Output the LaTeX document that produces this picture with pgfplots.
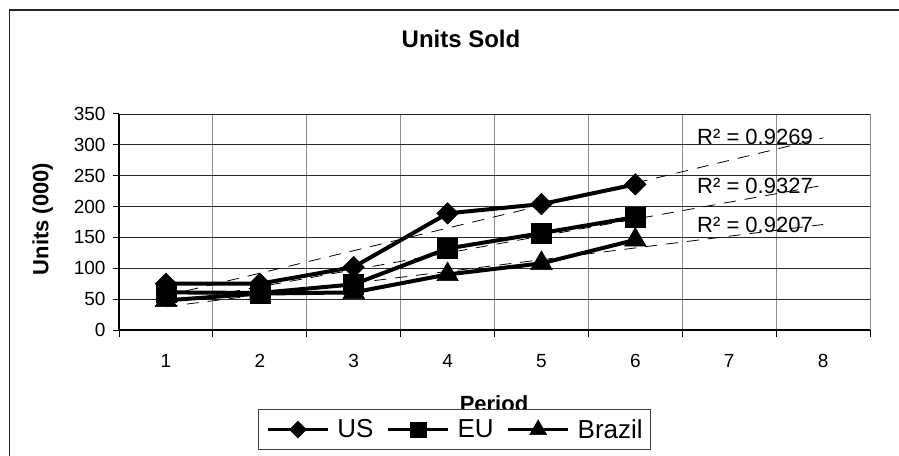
\documentclass[border=0pt]{standalone}
\usepackage{pgfplots}
\pgfplotsset{compat=1.18}
\usepackage{fontspec}
\setmainfont{Liberation Sans}

\begin{document}
\begin{tikzpicture}
\useasboundingbox (0pt,0pt) rectangle (899pt,455pt);
\clip (0pt,0pt) rectangle (899pt,455pt);
% chart frame (runs off the right and bottom edges)
\draw[black!85, line width=1.5pt] (9.5pt,445pt) rectangle (930pt,-30pt);
\node[anchor=base, font=\bfseries\fontsize{22}{26}\selectfont, inner sep=0pt] at (494pt,44pt) {Period};
\begin{axis}[
    at={(119pt,125pt)}, anchor=south west,
    x=93.875pt, y=0.617143pt,
    xmin=0.5, xmax=8.5, ymin=0, ymax=350,
    xtick={1,...,8}, ytick={0,50,...,350},
    minor xtick={0.5,1.5,...,8.5},
    xmajorgrids=false, xminorgrids=true, ymajorgrids=true,
    major grid style={black!85, line width=0.9pt},
    minor grid style={black!45, line width=1pt},
    axis x line*=bottom, axis y line*=left,
    axis line style={black, line width=1.4pt, -},
    tick align=outside,
    major tick length=6pt, minor tick length=7pt,
    major x tick style={draw=none},
    tick style={black, line width=1pt},
    ticklabel style={font=\fontsize{19}{22}\selectfont, black},
    /pgf/number format/assume math mode=true,
    xticklabel style={anchor=base, yshift=-31pt},
    yticklabel style={xshift=-4pt},
    legend columns=3,
    legend cell align=left,
    legend style={at={(0.185,-0.3657)}, anchor=north west,
        draw=black!75, line width=1pt, fill=white,
        font=\fontsize{26}{30}\selectfont,
        inner xsep=8pt, inner ysep=10pt,
        nodes={inner sep=0pt},
        /tikz/every odd column/.style={column sep=8pt},
        /tikz/every even column/.style={column sep=13pt}},
    legend image code/.code={%
        \draw[mark repeat=2, mark phase=2, #1, line width=3pt,
              every mark/.append style={scale=0.78}]
            plot coordinates {(0pt,0pt) (30pt,0pt) (60pt,0pt)};},
]
% US
\addplot[black, line width=4pt, mark=square*, mark size=7.6pt,
    mark options={rotate=45, line width=0.5pt, fill=black}]
    coordinates {(1,75) (2,75) (3,102) (4,189) (5,204) (6,236)};
% EU
\addplot[black, line width=4pt, mark=square*, mark size=10pt,
    mark options={line width=0.5pt, fill=black}]
    coordinates {(1,61) (2,60) (3,74) (4,132) (5,157) (6,183)};
% Brazil
\addplot[black, line width=4pt, mark=triangle*, mark size=12.5pt,
    mark options={line width=0.5pt, fill=black}]
    coordinates {(1,48) (2,59) (3,61) (4,90) (5,108) (6,146)};
% linear trend lines, forecast two periods ahead
\addplot[black, line width=0.8pt, dash pattern=on 12pt off 9pt, forget plot]
    coordinates {(1,55.5) (8,311.3)};
\addplot[black, line width=0.8pt, dash pattern=on 12pt off 9pt, forget plot]
    coordinates {(1,42.7) (8,234.5)};
\addplot[black, line width=0.8pt, dash pattern=on 12pt off 9pt, forget plot]
    coordinates {(1,37.8) (8,171.0)};
\legend{US,EU,Brazil}
\end{axis}
\node[anchor=base, font=\bfseries\fontsize{24}{28}\selectfont, inner sep=0pt] at (461pt,407.3pt) {Units Sold};
\node[anchor=base, rotate=90, font=\bfseries\fontsize{22}{26}\selectfont, inner sep=0pt] at (48.3pt,236pt) {Units (000)};
\node[anchor=west, font=\fontsize{22}{25}\selectfont, inner sep=0pt] at (697pt,318.5pt) {R² = 0.9269};
\node[anchor=west, font=\fontsize{22}{25}\selectfont, inner sep=0pt] at (697pt,269.2pt) {R² = 0.9327};
\node[anchor=west, font=\fontsize{22}{25}\selectfont, inner sep=0pt] at (697pt,230.3pt) {R² = 0.9207};
\end{tikzpicture}
\end{document}
